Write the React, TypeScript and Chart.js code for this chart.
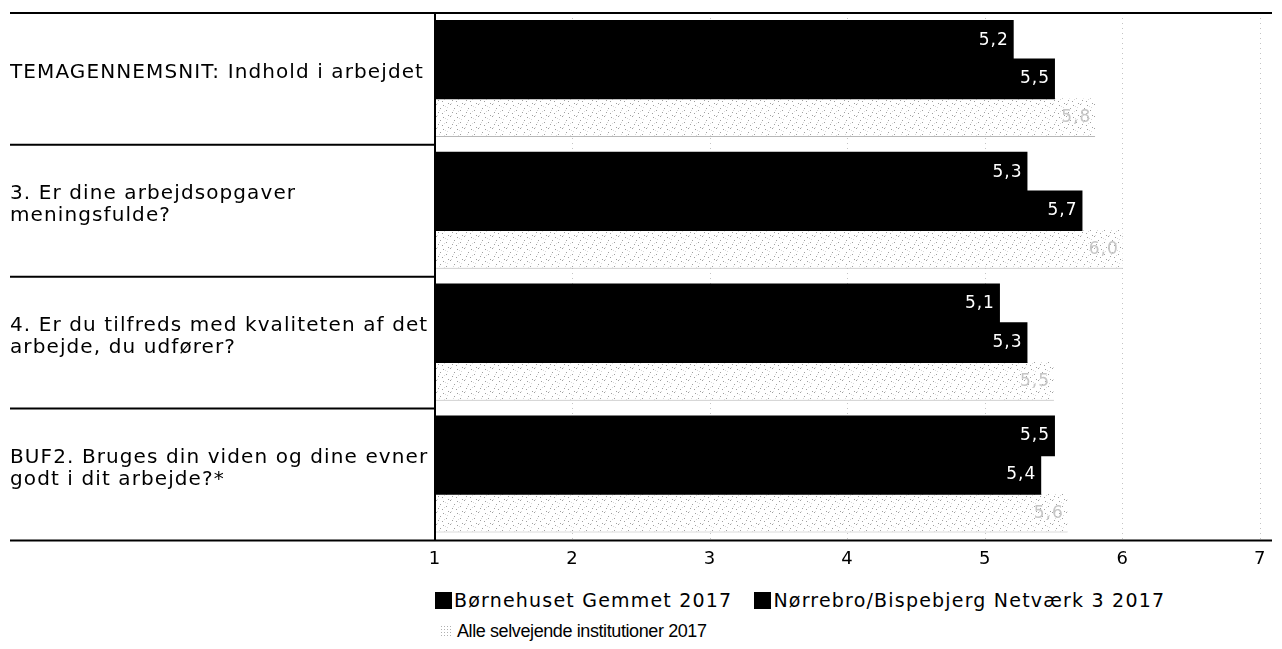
import React, { useEffect, useRef } from "react";
import { Chart, registerables } from "chart.js";

Chart.register(...registerables);

const categories: string[][] = [
  ["TEMAGENNEMSNIT: Indhold i arbejdet"],
  ["3. Er dine arbejdsopgaver", "meningsfulde?"],
  ["4. Er du tilfreds med kvaliteten af det", "arbejde, du udfører?"],
  ["BUF2. Bruges din viden og dine evner", "godt i dit arbejde?*"],
];
const seriesNames = [
  "Børnehuset Gemmet 2017",
  "Nørrebro/Bispebjerg Netværk 3 2017",
  "Alle selvejende institutioner 2017",
];
const gemmet = [5.2, 5.3, 5.1, 5.5];
const netvaerk = [5.5, 5.7, 5.3, 5.4];
const alle = [5.8, 6.0, 5.5, 5.6];
const xTicks = [1, 2, 3, 4, 5, 6, 7];

const FONT = "'DejaVu Sans', Verdana, sans-serif";
const FONT2 = "'Liberation Sans', Arial, sans-serif";

function makePattern(): CanvasPattern | string {
  const c = document.createElement("canvas");
  c.width = 14;
  c.height = 12;
  const g = c.getContext("2d");
  if (!g) return "#f2f2f2";
  g.fillStyle = "#ffffff";
  g.fillRect(0, 0, 14, 12);
  g.fillStyle = "#a0a0a0";
  const dots = [[1, 1], [8, 0], [12, 4], [4, 6], [0, 9], [10, 8], [6, 11]];
  dots.forEach(([x, y]) => g.fillRect(x, y, 1, 1));
  g.fillStyle = "#dadada";
  const light = [[5, 3], [11, 6], [2, 7], [9, 11], [3, 2]];
  light.forEach(([x, y]) => g.fillRect(x, y, 1, 1));
  const p = g.createPattern(c, "repeat");
  return p || "#f2f2f2";
}

const spacingPlugin = {
  id: "spacing",
  beforeDraw(chart: any) {
    (chart.ctx as any).letterSpacing = "1.1px";
  },
};

const framePlugin = {
  id: "frame",
  afterDraw(chart: any) {
    const { ctx, chartArea } = chart;
    const yScale = chart.scales.y;
    ctx.save();
    ctx.strokeStyle = "#000";
    ctx.lineWidth = 2;
    const right = chart.width - 2;
    ctx.beginPath();
    ctx.moveTo(2, chartArea.top);
    ctx.lineTo(right, chartArea.top);
    ctx.moveTo(2, chartArea.bottom);
    ctx.lineTo(right, chartArea.bottom);
    const n = categories.length;
    for (let i = 1; i < n; i++) {
      const y = (yScale.getPixelForValue(i - 1) + yScale.getPixelForValue(i)) / 2;
      ctx.moveTo(2, y);
      ctx.lineTo(chartArea.left, y);
    }
    ctx.moveTo(chartArea.left, chartArea.top);
    ctx.lineTo(chartArea.left, chartArea.bottom);
    ctx.stroke();
    ctx.restore();
  },
};

const labelPlugin = {
  id: "valueLabels",
  afterDatasetsDraw(chart: any) {
    const { ctx } = chart;
    ctx.save();
    ctx.font = `17px ${FONT}`;
    (ctx as any).letterSpacing = "1px";
    ctx.textAlign = "right";
    ctx.textBaseline = "middle";
    chart.data.datasets.forEach((ds: any, di: number) => {
      const meta = chart.getDatasetMeta(di);
      ctx.fillStyle = di === 2 ? "#c6c6c6" : "#ffffff";
      meta.data.forEach((bar: any, i: number) => {
        const v = ds.data[i] as number;
        ctx.fillText(v.toFixed(1).replace(".", ","), bar.x - 4, bar.y);
      });
    });
    ctx.restore();
  },
};

export default function App() {
  const ref = useRef<HTMLCanvasElement | null>(null);
  useEffect(() => {
    if (!ref.current) return;
    const pattern = makePattern();
    const chart = new Chart(ref.current, {
      type: "bar",
      data: {
        labels: categories,
        datasets: [
          { label: seriesNames[0], data: gemmet, backgroundColor: "#000000", inflateAmount: 1 },
          { label: seriesNames[1], data: netvaerk, backgroundColor: "#000000", inflateAmount: 1 },
          {
            label: seriesNames[2],
            data: alle,
            backgroundColor: pattern as any,
            inflateAmount: 0,
            borderColor: "#b8b8b8",
            borderWidth: { top: 0, right: 0, bottom: 1, left: 0 },
            borderSkipped: false,
          },
        ],
      },
      options: {
        indexAxis: "y",
        responsive: true,
        maintainAspectRatio: false,
        animation: false,
        layout: { padding: { left: 2, right: 4, top: 5, bottom: 8 } },
        datasets: { bar: { barPercentage: 1.0, categoryPercentage: 0.88 } },
        plugins: { legend: { display: false }, tooltip: { enabled: false } },
        scales: {
          x: {
            type: "linear",
            min: 1,
            max: 7,
            afterBuildTicks: (scale: any) => {
              scale.ticks = xTicks.map((v) => ({ value: v }));
            },
            ticks: {
              stepSize: 1,
              color: "#000",
              padding: 8,
              font: { family: FONT, size: 18 },
            },
            grid: { color: "#c4c4c4", lineWidth: 1, drawTicks: false },
            border: { display: false, dash: [1, 4] },
          },
          y: {
            afterFit: (scale: any) => {
              scale.width = 425;
              scale.paddingTop = 0;
              scale.paddingBottom = 0;
            },
            ticks: {
              color: "#000",
              crossAlign: "far",
              labelOffset: -6,
              font: { family: FONT, size: 20, lineHeight: 1.1 },
            },
            grid: { display: false },
            border: { display: false },
          },
        },
      },
      plugins: [spacingPlugin, framePlugin, labelPlugin],
    });
    return () => chart.destroy();
  }, []);

  const legendText: React.CSSProperties = {
    fontFamily: FONT,
    fontSize: 19,
    color: "#000",
    lineHeight: "22px",
    whiteSpace: "nowrap",
    letterSpacing: "1.2px",
  };
  const legendText2: React.CSSProperties = {
    fontFamily: FONT2,
    fontSize: 18,
    color: "#000",
    lineHeight: "22px",
    whiteSpace: "nowrap",
    letterSpacing: "-0.4px",
  };
  const box: React.CSSProperties = {
    display: "inline-block",
    width: 17,
    height: 17,
    background: "#000",
    verticalAlign: "-2px",
    marginRight: 2,
  };
  const dotBox: React.CSSProperties = {
    display: "inline-block",
    width: 13,
    height: 13,
    backgroundImage: "radial-gradient(#b0b0b0 0.6px, transparent 0.8px)",
    backgroundSize: "3px 3px",
    verticalAlign: "-1px",
    marginRight: 4,
  };

  return (
    <div style={{ position: "relative", width: 1266, height: 633 }}>
      <div style={{ position: "absolute", left: 0, top: 0, width: 1266, height: 578 }}>
        <canvas ref={ref} />
      </div>
      <div style={{ position: "absolute", left: 427, top: 581, ...legendText }}>
        <span style={box} />
        {seriesNames[0]}
        <span style={{ display: "inline-block", width: 22 }} />
        <span style={box} />
        {seriesNames[1]}
      </div>
      <div style={{ position: "absolute", left: 432, top: 612, ...legendText2 }}>
        <span style={dotBox} />
        {seriesNames[2]}
      </div>
    </div>
  );
}
